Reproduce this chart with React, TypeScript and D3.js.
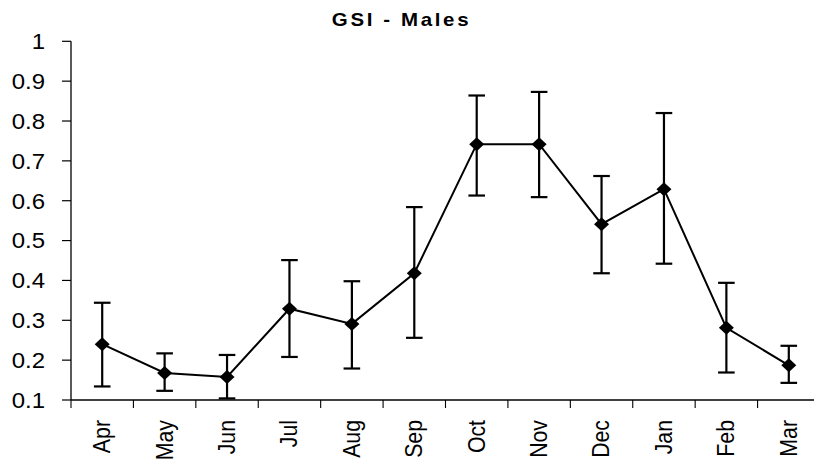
import React from "react";
import * as d3 from "d3";

// Monthly gonadosomatic index for males, with error bar limits
const months = ["Apr", "May", "Jun", "Jul", "Aug", "Sep", "Oct", "Nov", "Dec", "Jan", "Feb", "Mar"];
const gsiMean = [0.24, 0.168, 0.158, 0.329, 0.291, 0.418, 0.742, 0.742, 0.541, 0.629, 0.281, 0.187];
const gsiUpper = [0.344, 0.217, 0.213, 0.451, 0.398, 0.584, 0.864, 0.873, 0.662, 0.82, 0.394, 0.236];
const gsiLower = [0.134, 0.123, 0.104, 0.208, 0.179, 0.256, 0.613, 0.609, 0.418, 0.442, 0.169, 0.143];
const yTicks = [0.1, 0.2, 0.3, 0.4, 0.5, 0.6, 0.7, 0.8, 0.9, 1];
const yTickLabels = ["0.1", "0.2", "0.3", "0.4", "0.5", "0.6", "0.7", "0.8", "0.9", "1"];

const W = 814;
const H = 463;
const left = 71;
const right = 820;
const top = 41.3;
const bottom = 400;
const FONT = "'Liberation Sans', Arial, sans-serif";
// glyphs are drawn slightly wide
const SX = 1.1;

export default function App() {
  const x = d3.scaleBand<string>().domain(months).range([left, right]).padding(0);
  const y = d3.scaleLinear().domain([0.1, 1]).range([bottom, top]);
  const cx = (m: string) => (x(m) as number) + x.bandwidth() / 2;

  const line = d3
    .line<number>()
    .x((_, i) => cx(months[i]))
    .y((v) => y(v));

  const diamond = "M0,-7 L7.5,0 L0,7 L-7.5,0 Z";
  const capHalf = 8.3;

  return (
    <svg
      width={W}
      height={H}
      style={{ position: "absolute", left: 0, top: 0, background: "#fff" }}
      fontFamily={FONT}
    >
      <rect x={0} y={0} width={W} height={H} fill="#fff" />
      <text
        transform={`translate(401.5,26) scale(${SX},1)`}
        textAnchor="middle"
        fontSize={18.6}
        fontWeight="bold"
        letterSpacing={2.4}
        fill="#000"
      >
        GSI - Males
      </text>

      {/* y axis */}
      <line x1={left} x2={left} y1={y(1)} y2={bottom} stroke="#000" strokeWidth={1.3} />
      {yTicks.map((t, i) => (
        <g key={t}>
          <line x1={left - 9} x2={left} y1={y(t)} y2={y(t)} stroke="#000" strokeWidth={1.2} />
          <text
            transform={`translate(45,${y(t)}) scale(${SX},1)`}
            dy="0.36em"
            textAnchor="end"
            fontSize={21.8}
            fill="#000"
          >
            {yTickLabels[i]}
          </text>
        </g>
      ))}

      {/* x axis */}
      <line x1={left} x2={right} y1={bottom} y2={bottom} stroke="#000" strokeWidth={1.3} />
      {months.map((m) => (
        <line
          key={"t" + m}
          x1={x(m) as number}
          x2={x(m) as number}
          y1={bottom}
          y2={bottom + 8}
          stroke="#000"
          strokeWidth={1.1}
        />
      ))}
      {months.map((m) => (
        <text
          key={"l" + m}
          transform={`translate(${cx(m) - 0.5},${bottom + 20}) scale(${SX},1) rotate(-90)`}
          dy="0.36em"
          textAnchor="end"
          fontSize={21.3}
          fill="#000"
        >
          {m}
        </text>
      ))}

      {/* error bars */}
      {months.map((m, i) => {
        const px = cx(m);
        return (
          <g key={"e" + m} stroke="#000" strokeWidth={2.2}>
            <line x1={px} x2={px} y1={y(gsiUpper[i])} y2={y(gsiLower[i])} />
            <line x1={px - capHalf} x2={px + capHalf} y1={y(gsiUpper[i])} y2={y(gsiUpper[i])} />
            <line x1={px - capHalf} x2={px + capHalf} y1={y(gsiLower[i])} y2={y(gsiLower[i])} />
          </g>
        );
      })}

      {/* mean line */}
      <path d={line(gsiMean) || ""} fill="none" stroke="#000" strokeWidth={2} />

      {/* markers */}
      {months.map((m, i) => (
        <path
          key={"m" + m}
          d={diamond}
          transform={`translate(${cx(m)},${y(gsiMean[i])})`}
          fill="#000"
        />
      ))}
    </svg>
  );
}
